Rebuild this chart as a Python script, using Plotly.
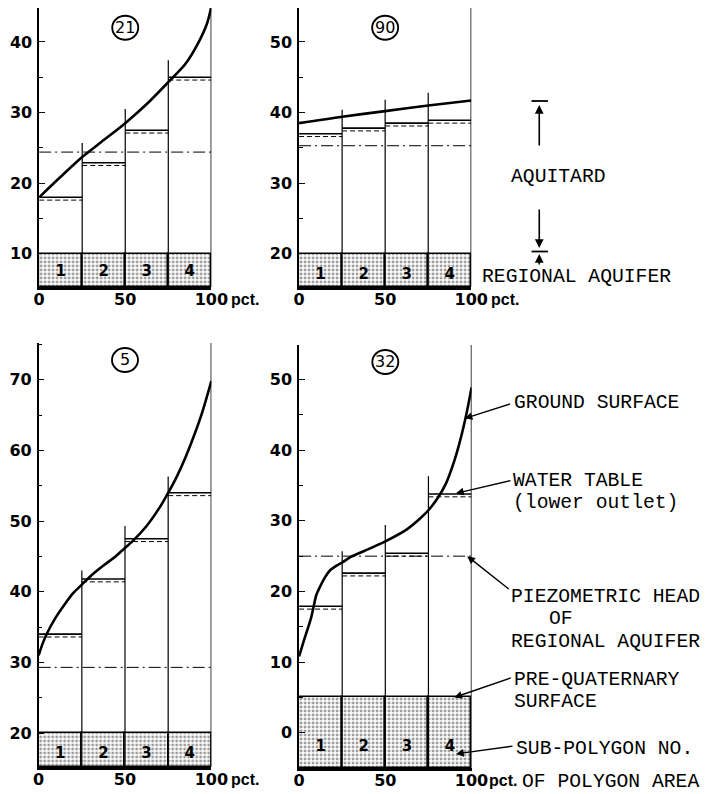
import plotly.graph_objects as go

# page body adds an 8 px margin; the figure is sized so that it fills the 712x794 window
PAGE_MARGIN = 8
W, H = 712 - PAGE_MARGIN, 794 - PAGE_MARGIN

# ---------------- data ----------------
panel_ids = ["21", "90", "5", "32"]
sub_polygon_labels = ["1", "2", "3", "4"]
sub_centers = [12.5, 37.5, 62.5, 87.5]
sub_left = [0, 25, 50, 75]
sub_width = 25
divider_x = [25, 50, 75]
x_tick_vals = [0, 50, 100]
x_tick_text = ["0", "50", "100"]

# ground surface (pct of polygon area, level)
gs21_x = [0, 12.5, 25, 37.5, 50, 62.5, 75, 85, 92.5, 97.5, 100]
gs21_y = [18.0, 20.9, 23.7, 26.1, 28.5, 31.2, 34.3, 36.9, 39.9, 42.6, 45.0]
gs90_x = [0, 25, 50, 75, 100]
gs90_y = [38.5, 39.4, 40.2, 41.0, 41.7]
gs5_x = [0, 2.5, 5, 10, 15, 20, 25, 30, 37.5, 45, 50, 55, 62.5, 70, 75, 80, 85, 90, 95, 100]
gs5_y = [31.0, 32.8, 34.2, 36.4, 38.2, 39.8, 41.0, 42.2, 43.7, 45.1, 46.2, 47.3, 49.3, 51.9,
         54.0, 56.3, 59.0, 62.1, 65.6, 69.8]
gs32_x = [0, 3, 7, 10, 12, 15, 18, 22, 25, 30, 37.5, 50, 62.5, 70, 75, 80, 85, 90, 93, 96, 98, 100]
gs32_y = [10.8, 13.2, 16.3, 19.5, 20.6, 22.0, 23.0, 23.7, 24.1, 24.9, 25.7, 27.1, 28.8, 30.3,
          31.5, 33.1, 35.2, 38.5, 41.0, 44.0, 46.3, 48.9]

# water table (lower outlet) per sub-polygon
wt21 = [18.0, 22.9, 27.5, 35.0]
wt90 = [37.0, 37.8, 38.5, 38.9]
wt5 = [34.0, 41.8, 47.5, 54.0]
wt32 = [17.9, 22.6, 25.4, 33.8]

# piezometric head of regional aquifer
piezo = [24.4, 35.3, 29.3, 25.0]
# pre-quaternary surface
pre_quat = [10, 20, 20, 5]
# top of the sub-polygon divider lines
div21 = [25.7, 30.5, 37.4]
div90 = [40.4, 41.8, 42.8]
div5 = [43.0, 49.3, 56.3]
div32 = [25.7, 29.4, 36.3]

# axis ranges and ticks (top of the upper panels is clipped by the window edge)
y_ranges = [[5.3, 44.8], [15.3, 54.8], [15.2, 75.2], [-5.0, 54.9]]
y_major = [[10, 20, 30, 40], [20, 30, 40, 50], [20, 30, 40, 50, 60, 70], [0, 10, 20, 30, 40, 50]]
sub_label_y = [7.4, 17.0, 17.0, -2.0]
circle_y = [42.0, 52.0, 72.8, 52.5]

# ---------------- layout geometry (window pixels) ----------------
px_boxes = [  # x0, x1, y_top, y_bottom
    (34.0, 212.0, 8.0, 287.0),
    (302.7, 480.7, 8.0, 287.0),
    (33.5, 212.0, 343.0, 767.0),
    (302.7, 481.0, 345.0, 768.0),
]
pct_shift = [18, 18, 18, 15]


def fx(px):
    return min(1.0, max(0.0, (px - PAGE_MARGIN) / W))


def fy(py):
    return min(1.0, max(0.0, 1 - (py - PAGE_MARGIN) / H))


gs_x = [gs21_x, gs90_x, gs5_x, gs32_x]
gs_y = [gs21_y, gs90_y, gs5_y, gs32_y]
wts = [wt21, wt90, wt5, wt32]
divs = [div21, div90, div5, div32]

fig = go.Figure()
TICKFONT = dict(family="DejaVu Sans", size=16, color="black", weight="bold")
PCTFONT = dict(family="Liberation Sans", size=16, color="black", weight="bold")
MONO = dict(family="Liberation Mono", size=19.7, color="black")

shapes = []
annotations = []

for i in range(4):
    n = "" if i == 0 else str(i + 1)
    xa, ya = "x" + n, "y" + n
    x0, x1, yt, yb = px_boxes[i]
    ybot = y_ranges[i][0]

    # stippled regional aquifer blocks
    fig.add_trace(go.Bar(
        x=sub_centers, y=[pre_quat[i] - ybot] * 4, base=ybot, width=sub_width,
        xaxis=xa, yaxis=ya, showlegend=False, hoverinfo="skip",
        marker=dict(color="white", line=dict(color="black", width=1.5),
                    pattern=dict(shape=".", fgcolor="#3a3a3a", bgcolor="white",
                                 size=4, solidity=0.42)),
    ))
    # sub-polygon numbers
    fig.add_trace(go.Scatter(
        x=sub_centers, y=[sub_label_y[i]] * 4, mode="text", text=sub_polygon_labels,
        textfont=dict(family="DejaVu Sans", size=15, color="black", weight="bold"),
        xaxis=xa, yaxis=ya, showlegend=False, hoverinfo="skip", cliponaxis=False,
    ))
    # divider lines
    dx, dy = [], []
    for xv, tv in zip(divider_x, divs[i]):
        dx += [xv, xv, None]
        dy += [ybot, tv, None]
    fig.add_trace(go.Scatter(
        x=dx, y=dy, mode="lines", line=dict(color="black", width=1.2),
        xaxis=xa, yaxis=ya, showlegend=False, hoverinfo="skip", cliponaxis=False,
    ))
    # water table: solid line + dashed below
    wx, wy, wy2 = [], [], []
    for xl, wv in zip(sub_left, wts[i]):
        wx += [xl, xl + sub_width, None]
        wy += [wv, wv, None]
        wy2 += [wv - 0.4, wv - 0.4, None]
    fig.add_trace(go.Scatter(
        x=wx, y=wy, mode="lines", line=dict(color="black", width=1.6),
        xaxis=xa, yaxis=ya, showlegend=False, hoverinfo="skip", cliponaxis=False,
    ))
    fig.add_trace(go.Scatter(
        x=wx, y=wy2, mode="lines", line=dict(color="black", width=1, dash="5px,3px"),
        xaxis=xa, yaxis=ya, showlegend=False, hoverinfo="skip", cliponaxis=False,
    ))
    # piezometric head
    fig.add_trace(go.Scatter(
        x=[0, 100], y=[piezo[i], piezo[i]], mode="lines",
        line=dict(color="black", width=1, dash="12px,4px,2px,4px"),
        xaxis=xa, yaxis=ya, showlegend=False, hoverinfo="skip", cliponaxis=False,
    ))
    # ground surface
    fig.add_trace(go.Scatter(
        x=gs_x[i], y=gs_y[i], mode="lines",
        line=dict(color="black", width=2.6, shape="spline", smoothing=0.8),
        xaxis=xa, yaxis=ya, showlegend=False, hoverinfo="skip", cliponaxis=False,
    ))

    dom_x = [fx(x0), fx(x1)]
    dom_y = [fy(yb), fy(yt)]
    fig.update_layout(**{
        "xaxis" + n: dict(domain=dom_x, range=[0, 100], anchor=ya, showgrid=False,
                          zeroline=False, showline=True, linecolor="black", linewidth=2.5,
                          tickvals=x_tick_vals, ticktext=x_tick_text, ticks="",
                          ticklabelstandoff=-4,
                          tickfont=TICKFONT, fixedrange=True),
        "yaxis" + n: dict(domain=dom_y, range=y_ranges[i], anchor=xa, showgrid=False,
                          zeroline=False, showline=True, linecolor="black", linewidth=1.5,
                          tickvals=y_major[i], ticks="inside", ticklen=6, tickwidth=1.2,
                          tickcolor="black", tickfont=TICKFONT, fixedrange=True,
                          ticklabelstandoff=2,
                          minor=dict(dtick=5, tick0=0, ticks="inside", ticklen=4,
                                     tickwidth=1.2, tickcolor="black", showgrid=False)),
    })

    # right border at 100 pct
    shapes.append(dict(type="line", xref=xa, yref=ya + " domain", x0=100, x1=100, y0=0, y1=1,
                       line=dict(color="black", width=1.5)))
    # circled polygon id
    shapes.append(dict(type="circle", xref=xa, yref=ya, xsizemode="pixel", ysizemode="pixel",
                       xanchor=50, yanchor=circle_y[i], x0=-13, x1=13, y0=-12, y1=12,
                       line=dict(color="black", width=1.9)))
    annotations.append(dict(x=50, y=circle_y[i], xref=xa, yref=ya, text=panel_ids[i],
                            showarrow=False,
                            font=dict(family="DejaVu Sans", size=16, color="black")))
    # "pct." after the 100 label
    annotations.append(dict(x=100, y=0, xref=xa, yref=ya + " domain", text="pct.",
                            showarrow=False, xanchor="left", yanchor="top",
                            xshift=pct_shift[i], yshift=-2, font=PCTFONT))


# ---------------- right-hand legend texts ----------------
def text_at(px, py, s, anchor="left"):
    annotations.append(dict(x=fx(px), y=fy(py), xref="paper", yref="paper", text=s,
                            showarrow=False, xanchor=anchor, yanchor="middle", font=MONO))


text_at(571, 177, "AQUITARD", "center")
text_at(590, 277, "REGIONAL AQUIFER", "center")

# aquitard arrows and caps
for hx, hy, ay in [(551, 105, 42), (551, 248, -40), (551, 254, 12)]:
    annotations.append(dict(x=fx(hx), y=fy(hy), xref="paper", yref="paper", text="",
                            showarrow=True, ax=0, ay=ay, arrowhead=2, arrowsize=1.1,
                            arrowwidth=1.6, arrowcolor="black"))
for cy in [101, 251.5]:
    shapes.append(dict(type="line", xref="paper", yref="paper", x0=fx(543), x1=fx(560),
                       y0=fy(cy), y1=fy(cy), line=dict(color="black", width=1.8)))

text_at(523, 403, "GROUND SURFACE")
text_at(522, 481, "WATER TABLE")
text_at(522, 503, "(lower outlet)")
text_at(520, 597, "PIEZOMETRIC HEAD")
text_at(573, 619, "OF", "center")
text_at(520, 642, "REGIONAL AQUIFER")
text_at(523, 680, "PRE-QUATERNARY")
text_at(523, 702, "SURFACE")
text_at(525, 749, "SUB-POLYGON NO.")
text_at(531, 782, "OF POLYGON AREA")

# arrows pointing into panel 32 (head in data coords, tail offset in px)
for hx, hy, ax, ay in [(96, 44.5, 47, -15), (91, 33.9, 56, -13), (97.5, 25.0, 43, 34),
                       (90, 5.0, 58, -20), (91, -3.0, 58, -8)]:
    annotations.append(dict(x=hx, y=hy, xref="x4", yref="y4", text="", showarrow=True,
                            ax=ax, ay=ay, arrowhead=2, arrowsize=1.1, arrowwidth=1.4,
                            arrowcolor="black"))

fig.update_layout(
    width=W, height=H, margin=dict(l=0, r=0, t=0, b=0),
    paper_bgcolor="white", plot_bgcolor="white",
    shapes=shapes, annotations=annotations, bargap=0, showlegend=False,
)

fig.write_html("out.html")
